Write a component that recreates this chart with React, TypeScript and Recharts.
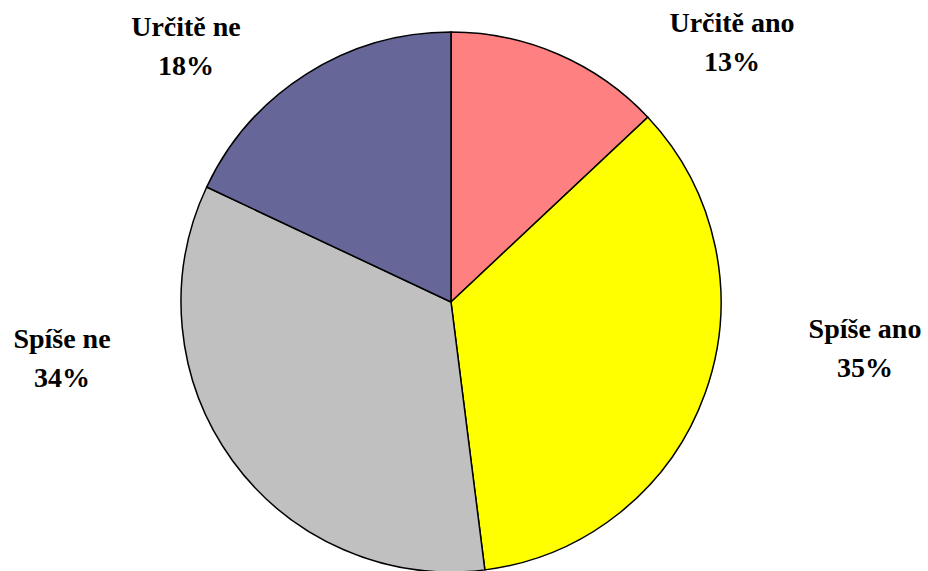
import React from 'react';
import { PieChart, Pie, Cell } from 'recharts';

const categories = ['Určitě ano', 'Spíše ano', 'Spíše ne', 'Určitě ne'];
const shares = [13, 35, 34, 18];
const colors = ['#FF8080', '#FFFF00', '#C0C0C0', '#666699'];

// label anchor offsets from the pie centre (x = text centre, y = first baseline)
const labelOffsets = [
  { dx: 281, dy: -270 },
  { dx: 414, dy: 36 },
  { dx: -389, dy: 46 },
  { dx: -265, dy: -266 },
];

const data = categories.map((name, i) => ({ name, value: shares[i] }));

const FONT = 'Liberation Serif';

const renderLabel = (props: any) => {
  const { cx, cy, index } = props;
  const off = labelOffsets[index];
  const x = cx + off.dx;
  const y = cy + off.dy;
  return (
    <g>
      <text x={x} y={y} textAnchor="middle" fill="#000" fontFamily={FONT} fontWeight={700} fontSize={28}>
        {categories[index]}
      </text>
      <text x={x} y={y + 39} textAnchor="middle" fill="#000" fontFamily={FONT} fontWeight={700} fontSize={28}>
        {shares[index]}%
      </text>
    </g>
  );
};

const App: React.FC = () => {
  return (
    <div style={{ position: 'absolute', left: 0, top: 0, background: '#fff', fontFamily: FONT }}>
      <PieChart width={928} height={571} margin={{ top: 0, right: 0, bottom: 0, left: 0 }}>
        <Pie
          data={data}
          dataKey="value"
          nameKey="name"
          cx={451}
          cy={302}
          outerRadius={270}
          startAngle={90}
          endAngle={-270}
          stroke="#000"
          strokeWidth={1.5}
          label={renderLabel}
          labelLine={false}
          isAnimationActive={false}
        >
          {data.map((d, i) => (
            <Cell key={d.name} fill={colors[i]} />
          ))}
        </Pie>
      </PieChart>
    </div>
  );
};

export default App;
